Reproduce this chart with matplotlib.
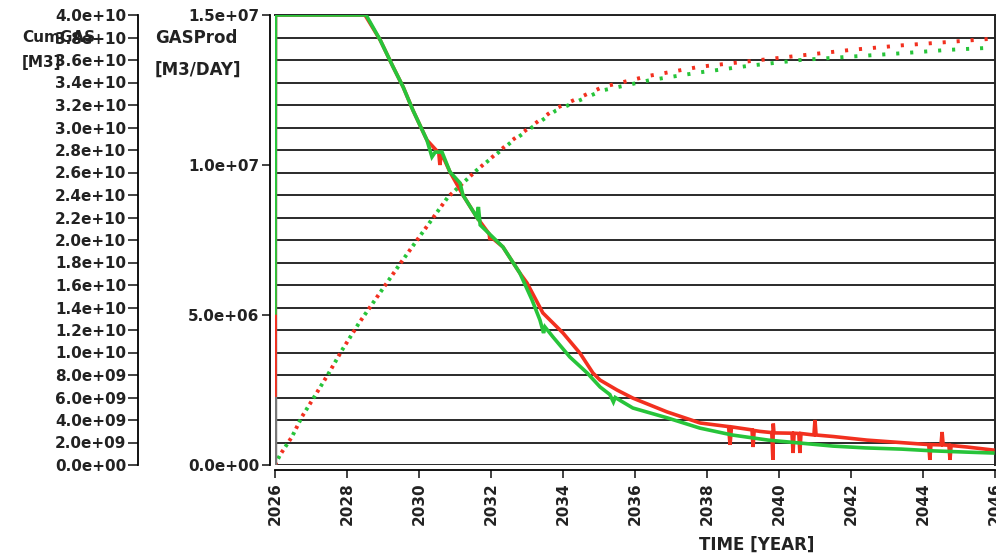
import numpy as np
import matplotlib
matplotlib.use("Agg")
import matplotlib.pyplot as plt
from matplotlib.ticker import FormatStrFormatter

RED = "#f2301f"
GREEN = "#27c43a"

# gas rate [M3/DAY], solid lines
rate_years_red = [2026.0, 2026.005, 2026.01, 2028.5, 2028.92, 2029.28, 2029.56, 2029.83, 2030.22,
                  2030.55, 2030.58, 2030.62, 2030.86, 2031.22, 2031.6, 2031.95, 2031.97, 2032.0,
                  2032.33, 2032.8, 2033.0, 2033.44, 2034.0, 2034.47, 2034.83, 2035.03, 2035.5,
                  2035.94, 2036.89, 2037.81, 2038.6, 2038.64, 2038.68, 2039.25, 2039.28, 2039.31,
                  2039.47, 2039.8, 2039.83, 2039.84, 2039.86, 2040.36, 2040.39, 2040.42, 2040.55,
                  2040.58, 2040.61, 2040.97, 2041.0, 2041.03, 2041.5, 2042.44, 2043.36, 2044.16,
                  2044.19, 2044.22, 2044.5, 2044.53, 2044.56, 2044.72, 2044.75, 2044.78, 2045.22,
                  2045.94]
rate_red = [2.33e6, 5.07e6, 1.5e7, 1.5e7, 1.417e7, 1.327e7, 1.26e7, 1.183e7, 1.083e7,
            1.04e7, 1.0e7, 1.04e7, 9.77e6, 9.0e6, 8.27e6, 7.7e6, 7.5e6, 7.6e6,
            7.27e6, 6.4e6, 6.07e6, 5.07e6, 4.4e6, 3.73e6, 3.07e6, 2.83e6, 2.5e6,
            2.23e6, 1.77e6, 1.4e6, 1.28e6, 0.67e6, 1.27e6, 1.17e6, 0.6e6, 1.15e6,
            1.12e6, 1.08e6, 0.17e6, 1.38e6, 1.07e6, 1.06e6, 0.4e6, 1.06e6, 1.05e6,
            0.4e6, 1.05e6, 1.0e6, 1.5e6, 1.0e6, 0.95e6, 0.83e6, 0.75e6, 0.68e6,
            0.17e6, 0.68e6, 0.67e6, 1.1e6, 0.67e6, 0.66e6, 0.17e6, 0.65e6, 0.6e6,
            0.5e6]

rate_years_green = [2026.0, 2026.01, 2028.53, 2028.92, 2029.28, 2029.56, 2029.83, 2030.22, 2030.36,
                    2030.45, 2030.64, 2030.86, 2031.14, 2031.22, 2031.6, 2031.65, 2031.7, 2032.33,
                    2032.8, 2033.14, 2033.36, 2033.46, 2033.5, 2033.72, 2034.19, 2034.67, 2035.03,
                    2035.3, 2035.4, 2035.45, 2035.94, 2036.9, 2037.8, 2038.7, 2039.7, 2040.6,
                    2041.5, 2042.4, 2043.4, 2044.3, 2045.2, 2045.94]
rate_green = [5.07e6, 1.5e7, 1.5e7, 1.417e7, 1.327e7, 1.26e7, 1.183e7, 1.083e7, 1.027e7,
              1.043e7, 1.043e7, 9.77e6, 9.4e6, 9.0e6, 8.27e6, 8.6e6, 8.0e6, 7.27e6,
              6.4e6, 5.5e6, 4.83e6, 4.4e6, 4.6e6, 4.27e6, 3.6e6, 3.07e6, 2.6e6,
              2.35e6, 2.1e6, 2.25e6, 1.9e6, 1.57e6, 1.23e6, 1.0e6, 0.83e6, 0.73e6,
              0.63e6, 0.57e6, 0.53e6, 0.47e6, 0.43e6, 0.4e6]

# cumulative gas [M3], dotted lines
cum_years = [2026.0, 2026.14, 2026.47, 2026.75, 2027.08, 2027.5, 2027.86, 2028.33, 2029.5,
             2030.8, 2031.6, 2032.6, 2033.8, 2035.1, 2036.4, 2037.8, 2039.2, 2040.6, 2042.0,
             2043.4, 2044.7, 2045.95]
cum_red = [0.0, 0.09e10, 0.25e10, 0.43e10, 0.6e10, 0.82e10, 1.02e10, 1.26e10, 1.8e10,
           2.38e10, 2.62e10, 2.89e10, 3.17e10, 3.36e10, 3.46e10, 3.54e10, 3.59e10, 3.64e10, 3.69e10,
           3.73e10, 3.76e10, 3.79e10]
cum_green = [0.0, 0.09e10, 0.25e10, 0.43e10, 0.6e10, 0.82e10, 1.02e10, 1.26e10, 1.8e10,
             2.38e10, 2.62e10, 2.88e10, 3.15e10, 3.33e10, 3.42e10, 3.49e10, 3.55e10, 3.6e10, 3.63e10,
             3.66e10, 3.69e10, 3.71e10]

x_ticks = list(range(2026, 2047, 2))

W, H = 996, 556
fig = plt.figure(figsize=(W / 100, H / 100), dpi=100)
plt.rcParams["font.family"] = "DejaVu Sans"
plt.rcParams["font.weight"] = "bold"

ax = fig.add_axes([275 / W, 1 - 465 / H, 720 / W, 450 / H])
ax.set_xlim(2026, 2046)
ax.set_ylim(0, 1.5e7)

ax.set_yticks([0, 5e6, 1e7, 1.5e7])
ax.yaxis.set_major_formatter(FormatStrFormatter("%.1e"))
ax.tick_params(axis="y", direction="out", length=6, width=1.2, labelsize=11,
               colors="#222222", pad=2)
ax.set_xticks(x_ticks)
ax.tick_params(axis="x", direction="out", length=6, width=1.2, labelsize=11, labelrotation=90,
               colors="#222222", pad=3)
for lab in ax.get_xticklabels() + ax.get_yticklabels():
    lab.set_fontweight("bold")

for side in ["left", "bottom"]:
    ax.spines[side].set_position(("outward", 3.5))
    ax.spines[side].set_linewidth(1.3)
for side in ["top", "right"]:
    ax.spines[side].set_linewidth(1.4)
    ax.spines[side].set_color("#222222")
ax.axvline(2026, color="#777777", lw=2.5, zorder=1)

ax.plot(rate_years_red, rate_red, color=RED, lw=2.6, zorder=3, solid_joinstyle="miter")
ax.plot(rate_years_green, rate_green, color=GREEN, lw=2.6, zorder=4, solid_joinstyle="miter")

# cumulative axis on the far left, its ticks carry the horizontal grid
ax2 = ax.twinx()
ax2.set_zorder(0)
ax.set_zorder(1)
ax.patch.set_visible(False)
ax2.set_ylim(0, 4e10)
ax2.yaxis.set_label_position("left")
ax2.yaxis.tick_left()
ax2.spines["left"].set_visible(True)
ax2.spines["left"].set_position(("outward", 99))
ax2.spines["left"].set_linewidth(1.3)
for side in ["right", "top", "bottom"]:
    ax2.spines[side].set_visible(False)
ax2.set_yticks(np.arange(0, 4.01e10, 2e9))
ax2.yaxis.set_major_formatter(FormatStrFormatter("%.1e"))
ax2.tick_params(axis="y", direction="out", length=7, width=1.2, labelsize=11,
                colors="#222222", pad=1)
for lab in ax2.get_yticklabels():
    lab.set_fontweight("bold")
ax2.grid(axis="y", color="#2a2a2a", lw=1.4)
ax2.set_axisbelow(True)

ax2.plot(cum_years, cum_red, color=RED, lw=2.8, linestyle=(0, (0.8, 2.8)))
ax2.plot(cum_years, cum_green, color=GREEN, lw=2.8, linestyle=(1.8, (0.8, 2.8)))


def ftext(x, y, s, size=11, **kw):
    fig.text(x / W, 1 - y / H, s, fontsize=size, fontweight="bold", color="#222222",
             va="center", **kw)


ftext(22, 38, "CumGAS")
ftext(22, 62, "[M3]")
ftext(155, 38, "GASProd", size=12)
ftext(155, 70, "[M3/DAY]", size=12)
ftext(757, 545, "TIME [YEAR]", size=12, ha="center")

fig.savefig("out.png", dpi=100)
